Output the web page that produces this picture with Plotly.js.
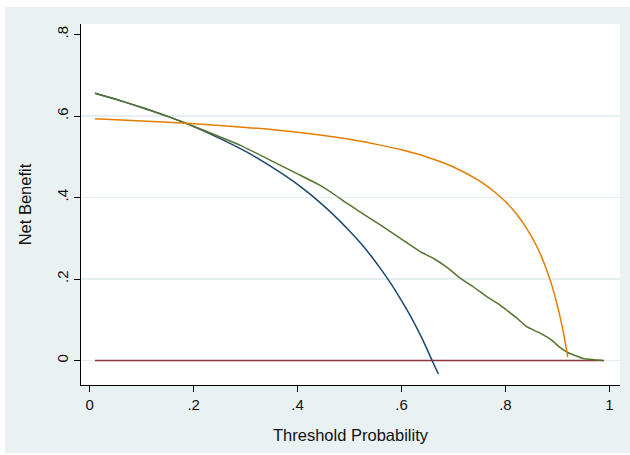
<!DOCTYPE html>
<html>
<head>
<meta charset="utf-8">
<script src="https://cdn.plot.ly/plotly-3.0.1.min.js"></script>
<style>
  html, body { margin: 0; padding: 0; background: #ffffff; width: 630px; height: 455px; overflow: hidden; }
  #chart { position: absolute; left: 5px; top: 7px; width: 625px; height: 446px; }
</style>
</head>
<body>
<div id="chart"></div>
<script>
// Treat none
const noneX = [0.01, 0.99];
const noneY = [0, 0];

// Treat all
const allX = [0.01, 0.05, 0.10, 0.15, 0.20, 0.25, 0.30, 0.35, 0.40, 0.45, 0.50, 0.52, 0.54, 0.56, 0.58, 0.60, 0.62, 0.64, 0.66, 0.671];
const allY = [0.656, 0.641, 0.621, 0.599, 0.574, 0.545, 0.513, 0.475, 0.432, 0.380, 0.318, 0.290, 0.259, 0.225, 0.188, 0.147, 0.103, 0.053, -0.003, -0.033];

// Model A (green)
const modelAX = [0.01, 0.05, 0.10, 0.15, 0.20, 0.25, 0.29, 0.35, 0.40, 0.44, 0.47, 0.49, 0.52, 0.56, 0.60, 0.636, 0.661, 0.687, 0.713, 0.738, 0.764, 0.790, 0.802, 0.822, 0.841, 0.867, 0.889, 0.905, 0.921, 0.950, 0.970, 0.988];
const modelAY = [0.656, 0.641, 0.621, 0.599, 0.575, 0.549, 0.528, 0.490, 0.458, 0.432, 0.408, 0.390, 0.365, 0.332, 0.298, 0.267, 0.251, 0.229, 0.202, 0.181, 0.157, 0.136, 0.124, 0.104, 0.083, 0.067, 0.050, 0.032, 0.019, 0.005, 0.002, 0.000];

// Model B (orange)
const modelBX = [0.01, 0.10, 0.20, 0.30, 0.40, 0.50, 0.55, 0.60, 0.65, 0.70, 0.75, 0.78, 0.80, 0.82, 0.84, 0.86, 0.87, 0.88, 0.89, 0.90, 0.905, 0.91, 0.915, 0.92];
const modelBY = [0.593, 0.588, 0.581, 0.572, 0.560, 0.543, 0.531, 0.517, 0.499, 0.475, 0.441, 0.413, 0.390, 0.362, 0.326, 0.281, 0.253, 0.220, 0.182, 0.135, 0.109, 0.079, 0.046, 0.008];

const xTickVals = [0, 0.2, 0.4, 0.6, 0.8, 1];
const xTickText = ['0', '.2', '.4', '.6', '.8', '1'];
const yTickVals = [0, 0.2, 0.4, 0.6, 0.8];
const yTickText = ['0', '.2', '.4', '.6', '.8'];
const yGridVals = [0, 0.2, 0.4, 0.6];

const lw = 1.5;
const traces = [
  { x: noneX, y: noneY, mode: 'lines', line: { color: '#90353b', width: lw }, name: 'Treat none' },
  { x: allX, y: allY, mode: 'lines', line: { color: '#1a476f', width: lw, shape: 'spline', smoothing: 0.6 }, name: 'Treat all' },
  { x: modelAX, y: modelAY, mode: 'lines', line: { color: '#55752f', width: lw, shape: 'spline', smoothing: 0.4 }, name: 'Model A' },
  { x: modelBX, y: modelBY, mode: 'lines', line: { color: '#e37e00', width: lw, shape: 'spline', smoothing: 0.6 }, name: 'Model B' },
  { x: [null], y: [null], yaxis: 'y2', mode: 'lines', showlegend: false, hoverinfo: 'skip' }
];

const yr = [-0.0601, 0.8258];
const layout = {
  width: 625, height: 446,
  paper_bgcolor: '#eaf1f3',
  plot_bgcolor: '#ffffff',
  margin: { l: 76, r: 10, t: 17, b: 68 },
  showlegend: false,
  font: { family: 'Liberation Sans, Arial, sans-serif', size: 15, color: '#111111' },
  xaxis: {
    range: [-0.0169, 1.0206],
    tickvals: xTickVals, ticktext: xTickText,
    ticks: 'outside', ticklen: 6, tickwidth: 1, tickcolor: '#000000',
    showline: true, linecolor: '#000000', linewidth: 1,
    showgrid: false, zeroline: false,
    tickfont: { size: 15 },
    title: { text: 'Threshold Probability', font: { size: 16.5 }, standoff: 17 }
  },
  yaxis: {
    range: yr,
    tickvals: yTickVals, ticktext: yTickText,
    tickangle: -90,
    ticks: 'outside', ticklen: 6, tickwidth: 1, tickcolor: '#000000',
    showline: true, linecolor: '#000000', linewidth: 1,
    showgrid: false, zeroline: false,
    tickfont: { size: 15 },
    title: { text: 'Net Benefit', font: { size: 16.5 }, standoff: 18 }
  },
  yaxis2: {
    overlaying: 'y', range: yr,
    tickvals: yGridVals, showticklabels: false, ticks: '',
    showgrid: true, gridcolor: '#e4edf0', gridwidth: 1.2,
    zeroline: false, showline: false
  }
};

Plotly.newPlot('chart', traces, layout, { displayModeBar: false, staticPlot: true });
</script>
</body>
</html>
